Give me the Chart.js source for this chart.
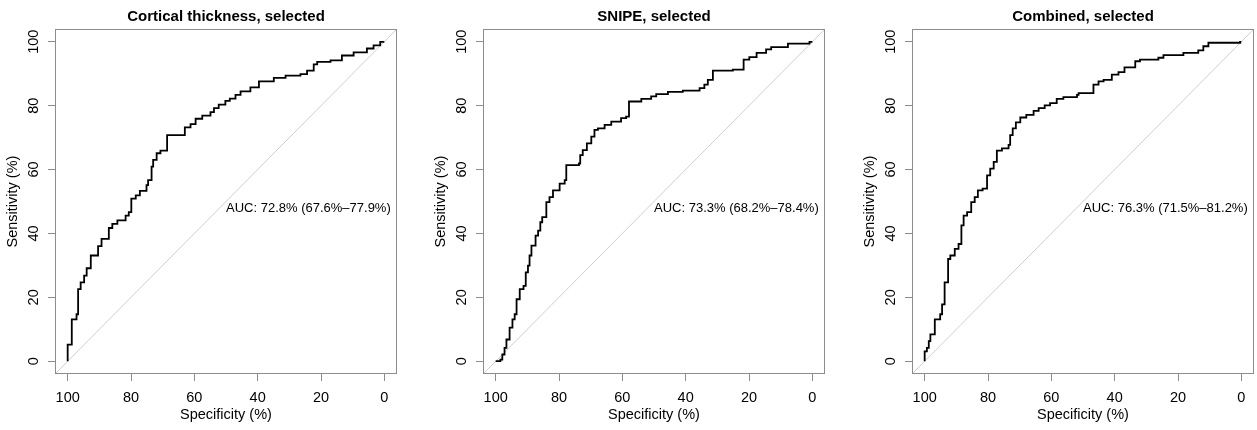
<!DOCTYPE html>
<html>
<head>
<meta charset="utf-8">
<script src="https://cdn.jsdelivr.net/npm/chart.js@4"></script>
<style>
  html, body { margin: 0; padding: 0; background: #fff; overflow: hidden; }
  #wrap { position: relative; width: 1257px; height: 430px; }
  canvas { position: absolute; top: 0; }
</style>
</head>
<body>
<div id="wrap">
  <canvas id="roc1" width="401" height="430" style="left:0px"></canvas>
  <canvas id="roc2" width="401" height="430" style="left:428px"></canvas>
  <canvas id="roc3" width="401" height="430" style="left:857px"></canvas>
</div>
<script>
// ROC curves: specificity (%) at each rise, sensitivity (%) after it
const specCortical = [100, 100, 98.7, 97.2, 96.7, 95.9, 94.8, 94.0, 92.7, 90.4, 89.3, 87.0, 85.9, 84.3, 81.7, 80.7, 79.9, 78.5, 77.2, 75.1, 74.6, 73.5, 73.0, 71.9, 70.7, 68.6, 63.0, 61.2, 59.6, 57.5, 54.9, 53.8, 52.3, 50.2, 48.8, 47.0, 45.4, 42.3, 39.6, 34.9, 31.2, 26.5, 24.4, 22.3, 21.2, 17.0, 13.4, 9.7, 5.5, 3.4, 1.3, 0];
const sensCortical = [0, 5.2, 13.1, 14.7, 22.6, 24.7, 26.8, 29.1, 33.1, 36.0, 38.3, 41.7, 43.0, 44.1, 45.6, 46.7, 50.9, 51.9, 53.3, 55.1, 56.7, 60.9, 63.0, 65.1, 65.9, 70.8, 73.2, 74.2, 75.9, 76.9, 78.0, 79.2, 80.3, 81.5, 82.2, 83.4, 84.5, 85.7, 87.6, 88.7, 89.4, 89.9, 91.0, 92.9, 93.7, 94.2, 95.7, 96.7, 97.9, 98.9, 100, 100];

const specSnipe = [100, 98.5, 97.9, 97.2, 96.6, 95.6, 94.7, 94.0, 93.4, 92.4, 91.2, 90.5, 89.8, 89.3, 88.7, 87.4, 86.6, 85.9, 85.3, 84.0, 83.0, 81.9, 79.8, 78.2, 77.7, 73.7, 73.3, 72.5, 71.2, 69.8, 68.8, 67.7, 65.6, 63.5, 60.4, 58.8, 57.9, 54.0, 50.9, 49.3, 45.6, 40.9, 35.6, 34.1, 33.0, 31.4, 25.1, 21.7, 19.9, 17.6, 14.6, 13.0, 7.7, 0.9, 0];
const sensSnipe = [0, 0.5, 2.1, 4.2, 6.8, 10.5, 13.1, 14.7, 19.4, 22.6, 23.6, 27.8, 29.9, 33.1, 36.2, 39.3, 40.9, 43.5, 45.1, 49.8, 51.4, 53.5, 55.6, 56.7, 61.4, 61.9, 64.5, 66.1, 68.2, 70.3, 72.4, 72.9, 74.0, 75.0, 76.1, 76.6, 81.3, 82.1, 82.9, 83.6, 84.3, 84.7, 85.5, 86.6, 88.1, 91.0, 91.3, 94.4, 95.2, 96.5, 97.6, 98.3, 99.4, 100, 100];

const specCombined = [100, 100, 99.3, 98.7, 98.2, 96.8, 95.1, 94.5, 93.7, 92.6, 91.9, 90.5, 89.3, 88.4, 87.7, 86.6, 85.3, 84.2, 83.2, 81.7, 80.3, 79.3, 78.2, 77.2, 75.6, 73.5, 73.0, 72.2, 71.2, 69.8, 67.9, 65.6, 64.0, 62.1, 60.4, 58.3, 56.2, 51.9, 51.4, 46.7, 45.1, 43.5, 40.9, 38.8, 36.9, 33.5, 32.0, 26.2, 24.6, 18.3, 13.6, 12.0, 10.4, 0.4, 0];
const sensCombined = [0, 3.1, 4.2, 6.3, 8.4, 13.1, 14.7, 17.8, 24.7, 32.0, 33.1, 35.2, 36.7, 42.5, 45.6, 46.7, 49.8, 51.4, 53.5, 54.0, 58.2, 60.3, 62.4, 65.9, 66.6, 67.7, 70.8, 72.9, 74.8, 76.3, 77.1, 78.4, 79.2, 80.1, 80.8, 82.1, 82.7, 83.4, 83.9, 86.6, 87.6, 88.1, 89.7, 90.5, 92.0, 93.9, 94.4, 95.0, 95.8, 96.5, 97.3, 98.6, 99.7, 100, 100];

const panelTitles = ['Cortical thickness, selected', 'SNIPE, selected', 'Combined, selected'];
const aucLabels = ['AUC: 72.8% (67.6%\u201377.9%)', 'AUC: 73.3% (68.2%\u201378.4%)', 'AUC: 76.3% (71.5%\u201381.2%)'];
const tickValues = [0, 20, 40, 60, 80, 100];

Chart.defaults.font.family = '"Liberation Sans", Arial, sans-serif';
Chart.defaults.color = '#000';

const axisGray = '#8c8c8c';

// box, title, rotated y labels and AUC text, drawn the way R does it
const rFrame = {
  id: 'rFrame',
  afterDraw(chart, args, opts) {
    const { ctx, chartArea: a, scales } = chart;
    const x = scales.x, y = scales.y;
    ctx.save();
    ctx.strokeStyle = axisGray;
    ctx.lineWidth = 1;
    ctx.strokeRect(a.left + 0.5, a.top + 0.5, a.right - a.left - 1, a.bottom - a.top - 1);

    ctx.fillStyle = '#000';
    ctx.textAlign = 'center';
    ctx.textBaseline = 'middle';
    ctx.font = 'bold 15px "Liberation Sans", Arial, sans-serif';
    ctx.fillText(opts.title, (a.left + a.right) / 2, 17);

    ctx.font = '14.5px "Liberation Sans", Arial, sans-serif';
    tickValues.forEach(v => {
      ctx.save();
      ctx.translate(a.left - 21, y.getPixelForValue(v));
      ctx.rotate(-Math.PI / 2);
      ctx.fillText(String(v), 0, 0);
      ctx.restore();
    });
    ctx.save();
    ctx.translate(a.left - 42, (a.top + a.bottom) / 2);
    ctx.rotate(-Math.PI / 2);
    ctx.fillText('Sensitivity (%)', 0, 0);
    ctx.restore();

    ctx.font = '13px "Liberation Sans", Arial, sans-serif';
    ctx.textAlign = 'left';
    ctx.fillText(opts.auc, x.getPixelForValue(50), y.getPixelForValue(50) + 7);
    ctx.restore();
  }
};

function toPoints(spec, sens) {
  return spec.map((s, i) => ({ x: s, y: sens[i] }));
}

function rocChart(id, spec, sens, idx) {
  return new Chart(document.getElementById(id), {
    type: 'line',
    data: {
      datasets: [{
        data: toPoints(spec, sens),
        borderColor: '#000',
        borderWidth: 1.8,
        stepped: 'before',
        pointRadius: 0,
        fill: false
      }, {
        data: [{ x: 104, y: -4 }, { x: -4, y: 104 }],
        borderColor: '#cfcfcf',
        borderWidth: 1,
        pointRadius: 0,
        fill: false
      }]
    },
    options: {
      responsive: false,
      animation: false,
      devicePixelRatio: 1,
      layout: { padding: { top: 29, right: 4, left: 0, bottom: 0 } },
      plugins: {
        legend: { display: false },
        tooltip: { enabled: false },
        rFrame: { title: panelTitles[idx], auc: aucLabels[idx] }
      },
      scales: {
        x: {
          type: 'linear',
          min: -4,
          max: 104,
          reverse: true,
          afterBuildTicks: s => { s.ticks = tickValues.map(v => ({ value: v })); },
          afterFit: s => { s.height = 56; },
          border: { display: false },
          grid: { drawOnChartArea: false, tickLength: 7, color: axisGray },
          ticks: { font: { size: 14.5 }, padding: 8, maxRotation: 0, color: '#000' },
          title: { display: true, text: 'Specificity (%)', font: { size: 14.5 }, color: '#000', padding: { top: 0, bottom: 6 } }
        },
        y: {
          type: 'linear',
          min: -4,
          max: 104,
          afterBuildTicks: s => { s.ticks = tickValues.map(v => ({ value: v })); },
          afterFit: s => { s.width = 55; },
          border: { display: false },
          grid: { drawOnChartArea: false, tickLength: 7, color: axisGray },
          ticks: { display: false }
        }
      }
    },
    plugins: [rFrame]
  });
}

rocChart('roc1', specCortical, sensCortical, 0);
rocChart('roc2', specSnipe, sensSnipe, 1);
rocChart('roc3', specCombined, sensCombined, 2);
</script>
</body>
</html>
